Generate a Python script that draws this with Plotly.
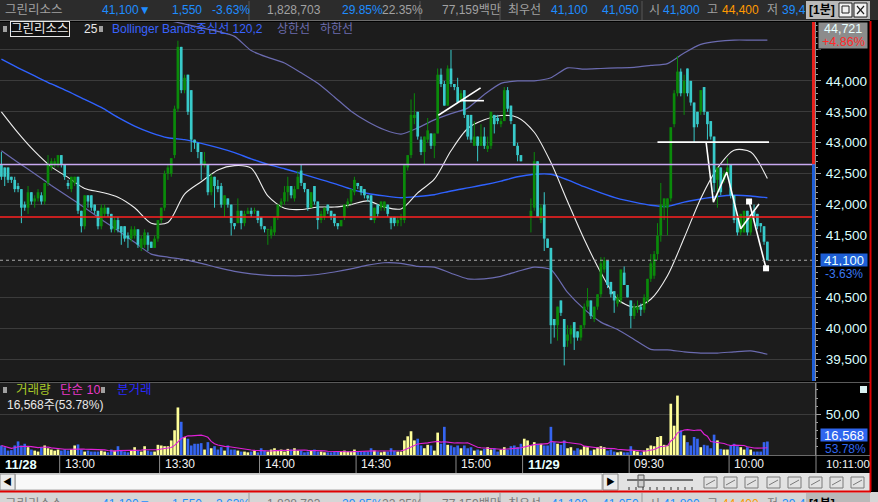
import plotly.graph_objects as go
import pandas as pd

# ---------------- data (1-minute bars, 11/28 12:42 .. 11/29 10:11) ----------------
opens = [42650,42600,42600,42450,42400,42300,42250,42000,41950,42200,42050,42100,42150,42050,42350,42600,42650,42650,42800,42650,
         42350,42250,42350,42450,41900,41650,42150,42150,42000,41900,41650,41850,41950,41850,41600,41750,41650,41650,41500,41450,
         41500,41600,41300,41350,41500,41400,41300,41450,41750,41950,42500,42500,42800,43550,44550,43850,44100,43850,43050,43000,
         42850,42650,42650,42200,42450,42300,42300,42000,42100,42000,41700,41700,41900,41700,41850,41900,41900,41900,41800,41650,
         41600,41500,41550,41800,42000,42050,42200,42300,42100,42250,42550,42350,42250,41950,42300,42050,41750,41800,42000,41900,
         41850,41700,41650,41800,42000,42050,42200,42350,42300,42250,42150,42150,41750,42000,41950,41950,42000,41800,41800,41700,
         41750,41750,42600,42800,43400,43500,43050,42850,43050,43150,42950,43150,44100,43950,43600,44200,43950,43900,43700,43850,
         43450,43450,42950,43100,42950,43100,42900,42950,43450,43400,43300,43350,43850,43600,43300,42950,42800,42650,42650,41800,
         41950,42700,41750,42000,41450,41300,40150,40050,40450,40150,39800,39900,40100,39950,39850,40050,40350,40450,40150,40350,
         40550,40950,41100,40750,40600,40400,40450,40900,40700,40450,40200,40300,40350,40300,40450,40800,40850,41200,41500,41950,
         41950,42100,43300,43800,44150,43800,44200,44000,43650,43500,43500,43900,43500,43350,43100,42400,42600,42400,42500,42650,
         42150,41800,41550,41550,41900,41550,41900,41850,41700,41650,41400]
highs = [42850,42600,42600,42450,42450,42350,42250,42050,42300,42200,42150,42250,42200,42350,42800,42750,42750,42800,42800,42650,
         42400,42450,42450,42450,41900,42150,42150,42150,42000,41900,42000,42000,41950,41850,41800,41800,41650,41650,41550,41650,
         41650,41600,41500,41600,41550,41400,41500,41750,41950,42550,42650,42750,43600,44650,44550,44100,44100,43850,43050,43000,
         42850,42850,42650,42500,42450,42400,42350,42150,42100,42000,41700,42100,41900,41900,41950,41950,41950,41900,41800,41650,
         41600,41650,41800,42000,42100,42300,42450,42300,42300,42550,42650,42350,42250,42200,42300,42050,41900,41950,42000,41900,
         41850,41700,41750,42000,42100,42250,42450,42350,42300,42250,42150,42150,41950,42000,42050,42050,42000,41800,41800,41800,
         41850,42650,42800,43700,43800,43500,43100,43100,43400,43150,43150,44200,44200,44000,44250,44500,43950,44050,43850,43850,
         43450,43450,43350,43100,43300,43250,43100,43500,43450,43450,43400,43900,43900,43600,43300,43000,42800,42650,42650,42100,
         42850,42700,42000,42200,41450,41300,40150,40350,40450,40150,40050,40050,40100,39950,40050,40400,40650,40450,40350,40550,
         41150,41150,41100,40750,40600,40550,40950,41000,40700,40450,40400,40450,40400,40550,40800,41200,41250,41700,42350,42100,
         42100,43250,43850,44400,44200,44100,44200,44000,43650,43500,43850,43900,43500,43350,43100,42600,42600,42550,42750,42650,
         42150,41800,41850,41900,41900,41800,42000,41850,41700,41650,41400]
lows = [42400,42300,42350,42350,42200,42200,41700,41900,41850,42000,41950,42050,42000,42000,42300,42550,42600,42600,42600,42400,
        42250,42200,42300,41850,41550,41600,41950,41900,41850,41600,41600,41800,41800,41550,41550,41550,41350,41400,41300,41400,
        41450,41300,41250,41300,41250,41300,41300,41400,41700,41900,42400,42450,42750,43500,43800,43800,43450,42850,42900,42750,
        42400,42600,42150,42150,41950,42200,41950,41800,41950,41500,41600,41700,41600,41650,41850,41800,41850,41700,41600,41550,
        41350,41450,41500,41750,41950,42000,42050,42100,42050,42250,42300,42200,41900,41950,42000,41600,41700,41750,41850,41750,
        41650,41600,41650,41750,41950,42000,42150,42250,42150,42100,42050,41750,41700,41800,41900,41900,41800,41600,41650,41650,
        41650,41700,42550,42750,43300,43050,42800,42650,43000,42900,42750,43150,43900,43600,43600,43900,43850,43650,43650,43400,
        43050,43000,42950,42700,42950,42900,42850,42900,43150,43300,43250,43350,43500,43300,42950,42700,42700,42650,42650,41550,
        41900,41800,41700,41250,41300,39750,39850,39800,40200,39400,39700,39750,39650,39800,39800,40000,40300,40150,40100,40300,
        40500,40900,40650,40500,40250,40350,40400,40700,40500,40000,40150,40250,40200,40250,40400,40750,40800,41100,41400,41750,
        41500,42050,43250,43750,43750,43450,43750,43600,43000,43250,43450,43450,43050,43050,42200,41950,42150,42350,42450,42100,
        41700,41500,41500,41550,41500,41500,41750,41600,41550,41350,41100]
closes = [42450,42450,42400,42400,42250,42250,41950,41950,42200,42050,42100,42200,42050,42350,42650,42700,42700,42800,42650,42450,
          42300,42450,42450,41900,41650,42150,42050,41950,41900,41650,41950,41950,41850,41600,41750,41600,41550,41450,41450,41600,
          41600,41350,41450,41550,41350,41300,41450,41750,41950,42500,42600,42750,43550,44550,43850,44050,43500,43050,43000,42850,
          42650,42700,42200,42450,42300,42250,42000,42150,42000,41700,41650,41900,41700,41850,41900,41850,41900,41750,41650,41600,
          41600,41600,41800,42000,42050,42200,42300,42150,42250,42450,42350,42250,41950,42200,42050,41750,41850,41950,41900,41800,
          41700,41650,41750,42000,42050,42250,42400,42300,42200,42150,42100,41750,41950,41850,42050,42050,41850,41700,41700,41750,
          41800,42650,42800,43450,43450,43100,42850,43100,43200,42950,43150,44100,43950,43600,44200,43950,43900,43650,43800,43450,
          43100,43050,43100,42950,43100,42950,42950,43500,43300,43350,43350,43850,43550,43350,42950,42800,42700,42650,42650,41900,
          42700,41800,41950,41450,41300,40050,40050,40350,40250,39700,39900,40000,39850,39850,40050,40350,40450,40200,40350,40550,
          41050,41100,40700,40550,40450,40500,40950,40700,40500,40200,40350,40350,40300,40500,40800,41050,41200,41500,42000,42100,
          42100,43250,43800,44150,43800,44000,43800,43650,43250,43300,43850,43500,43300,43100,42350,42600,42200,42500,42600,42150,
          41750,41550,41850,41900,41550,41800,41800,41650,41650,41400,41100]
volumes = [11700,9600,5400,6000,11700,16700,11700,13800,9600,6700,5400,4200,9600,11700,8300,6700,5400,6700,5400,6700,
           5400,6700,11700,13000,6700,4200,5400,4200,4200,4200,5400,4200,3300,6700,5400,10800,5400,4200,3300,5400,
           9600,5400,4200,10800,5400,4200,4200,12500,11700,10800,10800,17900,30400,58400,40800,22100,20000,11700,13800,13800,
           14600,6700,15800,8300,10800,6700,9600,5400,11700,6700,6700,5400,4200,4200,3300,4200,5400,3300,8300,5400,
           4200,6700,8300,5400,6700,4200,7500,6700,8300,5400,5400,3300,4200,5400,6700,4200,4200,3300,3300,3300,
           3800,4200,4200,5400,4200,4200,6700,4200,4200,4200,4200,8300,5400,4200,3300,4200,4200,8300,5400,4200,
           4200,17900,23000,29200,17900,20000,11700,8300,12500,11700,5400,27500,13800,34600,12500,11700,9600,11700,8300,11700,
           8300,9600,5400,6700,5400,7500,9600,6700,8300,4200,6700,9600,6700,10800,11700,9600,13800,20000,17900,11700,
           15800,13800,13800,11700,11700,34600,15800,13800,12500,17900,8300,9600,5400,8300,6700,10800,9600,5400,6700,9600,
           10800,9600,5400,6700,4200,3300,4200,3300,3300,10800,5400,4200,3300,5400,8300,11700,10800,22100,23300,12500,
           11700,63000,36000,73000,30400,24200,15800,11700,22100,20000,9600,12500,11700,8300,25000,17900,7500,6700,6700,11700,
           13800,10800,9600,6700,9600,6700,4200,4200,4200,15800,16568]

# indicator lines, one value every 5 bars
line_step = 5
ma25 = [43500,43160,42860,42610,42440,42260,42200,42120,41950,41700,41710,42170,42370,42560,42630,42590,42140,41940,41920,41960,
        41960,42000,42060,41960,41930,42190,42410,42870,43230,43370,43440,43410,43170,42680,42050,41440,40900,40470,40340,40470,
        40850,41460,42100,42590,42880,42850,42420]
bb_mid = [44350,44210,44080,43950,43830,43700,43570,43410,43270,43160,43080,43050,42990,42920,42840,42740,42650,42580,42500,42420,
          42340,42250,42180,42140,42110,42130,42160,42220,42270,42320,42380,42450,42490,42490,42400,42290,42190,42100,42040,41990,
          41970,42040,42090,42130,42150,42140,42110]
bb_up = [45700,45650,45580,45500,45420,45350,45280,45200,45120,45050,44980,44920,44860,44800,44720,44490,44380,44290,44130,43960,
         43740,43510,43340,43210,43140,43240,43370,43470,43560,43780,43960,44000,44000,44050,44210,44190,44200,44210,44220,44250,
         44280,44450,44590,44640,44660,44660,44660]
bb_lo = [42870,42680,42500,42310,42130,41950,41760,41580,41390,41200,41150,41110,41050,40980,40920,40880,40855,40850,40850,40870,
         40910,40960,41020,41060,41050,41000,40990,40890,40800,40800,40840,40920,40990,40950,40580,40310,40100,39980,39820,39660,
         39650,39620,39600,39600,39620,39635,39580]

prev_close = 42650
day_open = 41800
last_price = 41100
price_ticks = [39500, 40000, 40500, 41000, 41500, 42000, 42500, 43000, 43500, 44000, 44500]
hidden_ticks = [41000, 44500]
time_labels = ["13:00", "13:30", "14:00", "14:30", "15:00", "11/29", "09:30", "10:00"]
time_slots = [17.5, 47.5, 77.5, 106.5, 136.5, 156.5, 188.5, 218.5]

# user drawings on the chart (bar slot, price)
drawings = [
    [(131.2, 43444), (143.9, 43887)],
    [(137.7, 43680), (144.9, 43680)],
    [(197.0, 43010), (230.5, 43010)],
    [(211.6, 43010), (213.8, 42040), (217.8, 42525), (222.0, 41610), (227.5, 42010)],
    [(224.5, 42050), (229.6, 40970)],
]
drawing_marks = [(224.5, 42050), (229.6, 40970)]

# ---------------- geometry helpers ----------------
W, H = 878, 502
def px(x): return x / W
def py(y): return 1 - y / H

FONT = "Liberation Sans, Noto Sans CJK KR, sans-serif"
UP, DN = "#0a8a0a", "#38caca"
VUP, VDN = "#ffff99", "#3565f0"

n = len(closes)
slots = list(range(n))
X_RANGE = [-0.42, 244.3]
Y_RANGE = [39148, 44952]
V_RANGE = [0, 88450]

fig = go.Figure()
lslots = list(range(0, n, line_step))
fig.add_trace(go.Scatter(x=lslots, y=bb_up, mode="lines", line=dict(color="#6b6bb0", width=1.2, shape="spline", smoothing=0.6)))
fig.add_trace(go.Scatter(x=lslots, y=bb_lo, mode="lines", line=dict(color="#6b6bb0", width=1.2, shape="spline", smoothing=0.6)))
fig.add_trace(go.Scatter(x=lslots, y=bb_mid, mode="lines", line=dict(color="#2f62ff", width=1.4, shape="spline", smoothing=0.6)))
fig.add_trace(go.Scatter(x=lslots, y=ma25, mode="lines", line=dict(color="#eeeeee", width=1.1, shape="spline", smoothing=0.8)))

for is_up, col in ((True, UP), (False, DN)):
    wx, wy, bx, by = [], [], [], []
    for i in slots:
        o, h, l, c = opens[i], highs[i], lows[i], closes[i]
        if (c >= o) != is_up:
            continue
        wx += [i, i, None]
        wy += [l, h, None]
        b0, b1 = min(o, c), max(o, c)
        if b1 - b0 < 16:
            m = (o + c) / 2
            b0, b1 = m - 8, m + 8
        bx += [i, i, None]
        by += [b0, b1, None]
    fig.add_trace(go.Scatter(x=wx, y=wy, mode="lines", line=dict(color=col, width=1)))
    fig.add_trace(go.Scatter(x=bx, y=by, mode="lines", line=dict(color=col, width=2.7)))

for seg_pts in drawings:
    fig.add_trace(go.Scatter(x=[p[0] for p in seg_pts], y=[p[1] for p in seg_pts], mode="lines",
                             line=dict(color="#ffffff", width=1.6)))
fig.add_trace(go.Scatter(x=[p[0] for p in drawing_marks], y=[p[1] for p in drawing_marks], mode="markers",
                         marker=dict(symbol="square", size=6, color="#ffffff")))

vcols = [VUP if closes[i] >= opens[i] else VDN for i in slots]
fig.add_trace(go.Bar(x=slots, y=volumes, marker=dict(color=vcols, line=dict(width=0)), width=0.8,
                     xaxis="x2", yaxis="y2"))
vma = pd.Series(volumes).rolling(10, min_periods=1).mean()
fig.add_trace(go.Scatter(x=slots, y=vma, mode="lines", line=dict(color="#e020d8", width=1.1),
                         xaxis="x2", yaxis="y2"))

shapes, annos = [], []
def rect(x0, y0, x1, y1, fill, line=None, lw=0, layer="below"):
    shapes.append(dict(type="rect", xref="paper", yref="paper", x0=px(x0), x1=px(x1), y0=py(y1), y1=py(y0),
                       fillcolor=fill, line=dict(color=line or fill, width=lw), layer=layer))
def seg(x0, y0, x1, y1, color, w=1, layer="above", dash=None):
    shapes.append(dict(type="line", xref="paper", yref="paper", x0=px(x0), x1=px(x1), y0=py(y0), y1=py(y1),
                       line=dict(color=color, width=w, dash=dash), layer=layer))
def text(x, y, s, color, size=12, anchor="left", **kw):
    annos.append(dict(xref="paper", yref="paper", x=px(x), y=py(y), text=s, showarrow=False, xanchor=anchor,
                      yanchor="middle", font=dict(color=color, size=size, family=FONT), **kw))

PLOT_R = 815
# horizontal reference lines in price space
for val, col, dash, w in ((prev_close, "#c8a8f0", None, 1.5), (day_open, "#ff2020", None, 1.5),
                          (last_price, "#a8a8a8", "3px,3px", 1)):
    shapes.append(dict(type="line", xref="paper", yref="y", x0=0, x1=px(PLOT_R), y0=val, y1=val,
                       line=dict(color=col, width=w, dash=dash), layer="above"))
# red/blue bar at right edge of price area
shapes.append(dict(type="rect", xref="paper", yref="y", x0=px(812), x1=px(815), y0=prev_close, y1=Y_RANGE[1],
                   fillcolor="#e8201c", line=dict(width=0), layer="above"))
shapes.append(dict(type="rect", xref="paper", yref="y", x0=px(812), x1=px(815), y0=Y_RANGE[0], y1=prev_close,
                   fillcolor="#1e5ed8", line=dict(width=0), layer="above"))

# ---- header row ----
rect(0, 0, 878, 20, "#2c2c2c")
seg(0, 20.5, 870, 20.5, "#6c6c6c")
for sx in (249, 420, 500, 642):
    seg(sx, 1, sx, 20, "#565656")
GR, BL, OR = "#a2a2a2", "#1e8cff", "#ff9a00"
header = [("그린리소스", 3, GR), ("41,100▼", 100, BL), ("1,550", 170, BL), ("-3.63%", 210, BL),
          ("1,828,703", 265, GR), ("29.85%", 340, BL), ("22.35%", 380, GR), ("77,159백만", 440, GR),
          ("최우선", 506, GR), ("41,100", 549, BL), ("41,050", 600, BL), ("시", 647, GR), ("41,800", 661, BL),
          ("고", 705, GR), ("44,400", 720, OR), ("저", 765, GR), ("39,4", 780, BL)]
for s, x, c in header:
    text(x, 10, s, c, 12.5 if s == "그린리소스" else 12)
rect(806, 1, 870, 19, "#b9b9b9")
text(807, 10, "<b>[1분]</b>", "#000000", 12)
rect(839, 3, 852, 17, "#f2f2f2", "#202020", 1)
rect(842, 6, 849, 13, "rgba(0,0,0,0)", "#202020", 1)
rect(854, 3, 867, 17, "#f2f2f2", "#202020", 1)
seg(857, 6, 864, 14, "#202020", 1.2)
seg(857, 14, 864, 6, "#202020", 1.2)

# right window border
seg(870.5, 21, 870.5, 491, "#e00000", 2)

# ---- price legend row ----
rect(3, 26, 7, 32, "#a0a0a0", layer="above")
text(10, 29, "그린리소스", "#f0f0f0", 12.5, bordercolor="#e8e8e8", borderwidth=1, borderpad=0, bgcolor="#101010")
text(82, 29, "25", "#e8e8e8", 12)
rect(99, 26, 103, 32, "#a0a0a0", layer="above")
text(110, 29, "Bollinger Bands중심선 120,2", "#3a63ff", 12)
text(275, 29, "상한선", "#6d6db0", 12)
text(318, 29, "하한선", "#6d6db0", 12)

# ---- right price-axis boxes ----
rect(818, 22, 868, 49, "#8c8c8c", "#000000", 1, layer="above")
text(843, 29.5, "44,721", "#e8ffff", 12.5, anchor="center")
text(843, 42, "+4.86%", "#ff2a2a", 12.5, anchor="center")
text(844, 259.5, "41,100", "#e8ffff", 13, anchor="center", bgcolor="#1e5fd6", width=46, height=12, borderpad=0)
text(823, 273.5, "-3.63%", "#3a78f0", 12)

# ---- volume panel ----
seg(0, 382.5, 870, 382.5, "#5a5a5a")
rect(3, 387, 7, 393, "#a0a0a0", layer="above")
text(14, 390, "거래량", "#a8c828", 12.5)
text(58, 390, "단순 10", "#e838c8", 12.5)
rect(101, 387, 105, 393, "#a0a0a0", layer="above")
text(115, 390, "분거래", "#2a2aff", 12.5)
text(5, 405, "16,568주(53.78%)", "#e8e8e8", 12)
rect(860, 386, 867, 393, "#d8f0f0", layer="above")
text(844, 435, "16,568", "#ffffff", 13, anchor="center", bgcolor="#2f66ee", width=46, height=12, borderpad=0)
text(823, 448.5, "53.78%", "#2f66ee", 12)

# ---- time axis strip ----
rect(0, 455, 870, 473, "#000000")
seg(0, 455.5, 870, 455.5, "#6a6a6a")
text(3, 464, "<b>11/28</b>", "#e8ffff", 13)
for lab, s in zip(time_labels, time_slots):
    shapes.append(dict(type="line", xref="x2", yref="paper", x0=s, x1=s, y0=py(473), y1=py(455),
                       line=dict(color="#8a8a8a", width=1), layer="above"))
    bold = lab.count("/") > 0
    annos.append(dict(xref="x2", yref="paper", x=s, y=py(464), xshift=3, text=f"<b>{lab}</b>" if bold else lab,
                      showarrow=False, xanchor="left", yanchor="middle",
                      font=dict(color="#e8ffff" if bold else "#f2f2f2", size=13 if bold else 12, family=FONT)))
seg(816, 383, 816, 473, "#8a8a8a")
text(824, 464, "10:11:00", "#f2f2f2", 11.5)

# ---- scroll / toolbar row ----
rect(0, 473, 870, 491, "#e2e2e2")
rect(15, 474, 602, 490, "#f8f8f8", "#a8a8a8", 1)
rect(0, 474, 15, 490, "#ececec", "#888888", 1)
text(7.5, 482, "◀", "#000000", 9, anchor="center")
rect(603, 474, 618, 490, "#ececec", "#888888", 1)
text(610.5, 482, "▶", "#000000", 9, anchor="center")
seg(627, 480, 693, 480, "#707070", 2)
rect(638, 475, 644, 487, "#cfcfcf", "#555555", 1)
for k in range(10):
    seg(629 + 7 * k, 487, 629 + 7 * k, 490, "#333333")
for ix in (704, 724, 745, 767, 788, 809, 830, 851):
    rect(ix, 477, ix + 13, 488, "rgba(0,0,0,0)", "#7a7a7a", 1)
    seg(ix + 2, 485, ix + 11, 480, "#7a7a7a", 1)
seg(0, 491.5, 871, 491.5, "#e00000", 2)

# ---- next window strip (cut off, as in the screenshot) ----
rect(0, 492, 878, 502, "#d6d6d6")
for s, x, c in header:
    text(x, 504, s, "#7a7a7a" if c == GR else c, 12.5 if s == "그린리소스" else 12)
for sx in (249, 420, 500, 642):
    seg(sx, 493, sx, 502, "#9a9a9a")
rect(806, 493, 870, 502, "#b9b9b9")
text(807, 504, "<b>[1분]</b>", "#000000", 12)

axis_common = dict(side="right", ticks="outside", ticklen=5, tickcolor="#a0a0a0", showline=True,
                   linecolor="#8a8a8a", linewidth=1, zeroline=False, showgrid=True, gridcolor="#3b3b3b",
                   gridwidth=1, fixedrange=True, ticklabelstandoff=2)
fig.update_layout(
    width=W, height=H, margin=dict(l=0, r=0, t=0, b=0),
    paper_bgcolor="#000000", plot_bgcolor="#1c1c1c",
    showlegend=False, hovermode=False,
    xaxis=dict(domain=[0, px(PLOT_R)], range=X_RANGE, visible=False, fixedrange=True, anchor="y"),
    yaxis=dict(domain=[py(381), py(22)], range=Y_RANGE, anchor="x", tickmode="array", tickvals=price_ticks,
               ticktext=["" if v in hidden_ticks else f"{v:,}" for v in price_ticks],
               tickfont=dict(color="#dcffff", size=13.5, family=FONT),
               minor=dict(tickmode="linear", tick0=39100, dtick=100, ticks="outside", ticklen=2,
                          tickcolor="#a0a0a0", showgrid=False),
               **axis_common),
    xaxis2=dict(domain=[0, px(PLOT_R)], range=X_RANGE, visible=False, fixedrange=True, anchor="y2"),
    yaxis2=dict(domain=[py(455), py(383)], range=V_RANGE, anchor="x2", tickmode="array", tickvals=[50000],
                ticktext=["50,00"], tickfont=dict(color="#dcffff", size=13.5, family=FONT),
                minor=dict(tickmode="linear", tick0=0, dtick=10000, ticks="outside", ticklen=2,
                           tickcolor="#a0a0a0", showgrid=False),
                **axis_common),
    shapes=shapes, annotations=annos,
)

fig.write_html("out.html", config={"displayModeBar": False, "staticPlot": True},
               post_script="document.body.style.margin='0px';document.body.style.overflow='hidden';")
